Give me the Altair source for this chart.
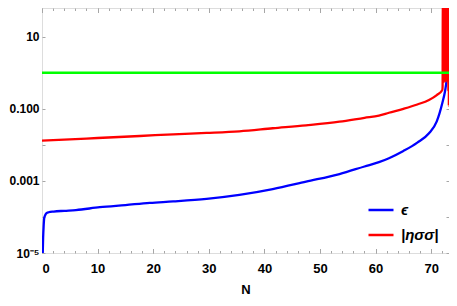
import altair as alt
import pandas as pd

# ---- data ----
eps_N = [0.12, 0.2, 0.29, 0.4, 0.55, 0.77, 1.2, 2.1, 4.0, 6.1, 10.4, 15.0, 19.4, 23.6, 29.6, 35.5,
         41.5, 47.5, 53.5, 58.0, 60.6, 62.4, 65.0, 67.5, 69.6, 71.0, 72.0, 72.5, 72.76]
eps_log = [-5.1, -4.6, -4.27, -4.03, -3.96, -3.90, -3.87, -3.85, -3.83, -3.81, -3.73, -3.67, -3.61,
           -3.57, -3.50, -3.39, -3.23, -3.02, -2.81, -2.60, -2.48, -2.37, -2.17, -1.94, -1.68,
           -1.35, -0.84, -0.50, -0.23]

eta_N = [0.0, 5.0, 10.0, 17.6, 23.6, 29.6, 35.5, 41.5, 47.5, 53.5, 58.0, 60.6, 62.4, 65.0, 67.5,
         69.6, 71.0, 72.0]
eta_log = [-1.885, -1.85, -1.81, -1.755, -1.707, -1.67, -1.625, -1.54, -1.458, -1.358, -1.25,
           -1.19, -1.11, -1.0, -0.88, -0.756, -0.62, -0.478]

# oscillating tail of |eta_sigma_sigma| near the end of inflation
osc_N = [72.05, 72.09, 72.13, 72.17, 72.21, 72.25, 72.29, 72.33, 72.37, 72.41, 72.45, 72.49,
         72.53, 72.57, 72.61, 72.65, 72.69, 72.73, 72.77, 72.81, 72.85, 72.89, 72.93, 72.97,
         73.01, 73.05, 73.09, 73.13, 73.17, 73.21, 73.25, 73.29, 73.33, 73.37]
osc_v = [0.42, 400, 0.5, 600, 0.55, 500, 0.6, 700, 0.55, 450, 0.6, 650, 0.58, 500, 0.6, 800,
         0.55, 600, 0.62, 550, 0.6, 700, 0.58, 500, 0.6, 650, 0.3, 500, 0.12, 600, 0.5, 700,
         0.6, 400]

green_level = [1.0]

x_major = [0, 10, 20, 30, 40, 50, 60, 70]
x_minor = [0, 2, 4, 6, 8, 10, 12, 14, 16, 18, 20, 22, 24, 26, 28, 30, 32, 34, 36, 38, 40, 42, 44,
           46, 48, 50, 52, 54, 56, 58, 60, 62, 64, 66, 68, 70, 72]
y_decades = [1e-5, 1e-4, 1e-3, 1e-2, 1e-1, 1, 10]

series_names = ["\u03f5", "|\u03b7\u03c3\u03c3|"]
series_colors = ["#0000ff", "#ff0000"]

rows = []
for n, lv in zip(eps_N, eps_log):
    rows.append({"N": n, "v": 10 ** lv, "s": series_names[0]})
for n, lv in zip(eta_N, eta_log):
    rows.append({"N": n, "v": 10 ** lv, "s": series_names[1]})
for n, v in zip(osc_N, osc_v):
    rows.append({"N": n, "v": v, "s": series_names[1]})
df = pd.DataFrame(rows)
gdf = pd.DataFrame({"g": green_level})

W, H = 407, 245
XDOM = [0, 73.2]
YDOM = [1e-5, 62.5]
GRAY = "#a6a6a6"
FONT = "Liberation Sans"

xs = alt.Scale(domain=XDOM, nice=False, zero=False)
ys = alt.Scale(type="log", domain=YDOM, nice=False)

lab_expr = ("round(log(datum.value)/LN10) == 1 ? '10' : round(log(datum.value)/LN10) == -1 ? '0.100' : "
            "round(log(datum.value)/LN10) == -3 ? '0.001' : round(log(datum.value)/LN10) == -5 ? '10\u207b\u2075' : ''")

lines = alt.Chart(df).mark_line(strokeWidth=2.3, clip=True, interpolate="monotone").encode(
    x=alt.X("N:Q", scale=xs, title="N",
            axis=alt.Axis(orient="bottom", values=x_major, ticks=False, domain=False, grid=False,
                          labelFont=FONT, labelFontWeight="bold", labelFontSize=13, labelColor="black",
                          labelPadding=9, titleFont=FONT, titleFontWeight="bold", titleFontSize=13,
                          titleColor="black", titlePadding=8)),
    y=alt.Y("v:Q", scale=ys, title="",
            axis=alt.Axis(orient="left", values=y_decades, ticks=False, domain=False, grid=False,
                          labelExpr=lab_expr, labelFont=FONT, labelFontWeight="bold", labelFontSize=12,
                          labelColor="black", labelPadding=3, labelOverlap=False)),
    color=alt.Color("s:N", scale=alt.Scale(domain=series_names, range=series_colors),
                    legend=alt.Legend(orient="none", legendX=325, legendY=188, title=None,
                                      symbolType="stroke", symbolSize=625, symbolStrokeWidth=2.5,
                                      labelFont=FONT, labelFontSize=15, labelFontStyle="italic",
                                      labelFontWeight="bold", labelColor="black", labelOffset=6,
                                      rowPadding=3, padding=0)),
    order=alt.Order("N:Q"),
)

green = alt.Chart(gdf).mark_rule(color="#00ff00", strokeWidth=2.3).encode(
    y=alt.Y("g:Q", scale=ys, title="",
            axis=alt.Axis(orient="right", offset=-W, values=y_decades, labels=False, domain=False,
                          grid=False, ticks=True, tickSize=3, tickColor=GRAY)),
)

def ghost(xorient, xvals, xtick, yaxis):
    enc = {
        "x": alt.X("N:Q", scale=xs, title="",
                   axis=alt.Axis(orient=xorient, offset=-H, values=xvals, labels=False, domain=False,
                                 grid=False, ticks=True, tickSize=xtick, tickColor=GRAY)),
    }
    if yaxis:
        enc["y"] = alt.Y("v:Q", scale=ys, title="",
                         axis=alt.Axis(orient="left", offset=-W, values=y_decades, labels=False,
                                       domain=False, grid=False, ticks=True, tickSize=3,
                                       tickColor=GRAY))
    else:
        enc["y"] = alt.Y("v:Q", scale=ys, axis=None)
    return alt.Chart(df).mark_line(opacity=0).encode(**enc)

g1 = ghost("top", x_minor, 2.5, True)     # inward ticks on bottom frame
g2 = ghost("bottom", x_minor, 2.5, False)  # inward ticks on top frame
g3 = ghost("top", x_major, 4.5, False)     # longer major ticks on bottom frame
g4 = ghost("bottom", x_major, 4.5, False)  # longer major ticks on top frame

chart = alt.layer(lines, green, g1, g2, g3, g4).resolve_axis(
    x="independent", y="independent"
).properties(
    width=W, height=H,
    autosize=alt.AutoSizeParams(type="none"),
    padding={"left": 34, "top": 0, "right": 0, "bottom": 45},
).configure_view(stroke=GRAY, strokeWidth=1).configure(background="white")

chart.save("out.html", embed_options={"renderer": "svg", "actions": False})
